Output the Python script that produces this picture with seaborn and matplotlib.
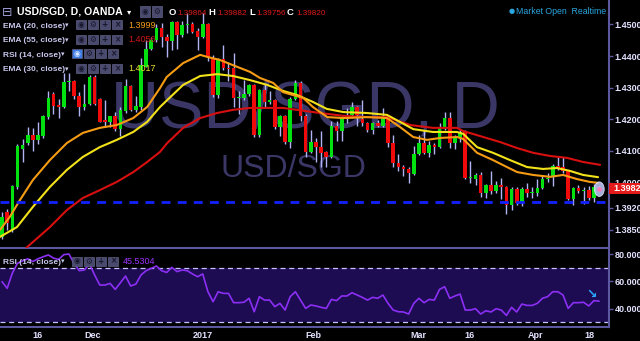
import matplotlib
matplotlib.use("Agg")
import matplotlib.pyplot as plt
import numpy as np
import pandas as pd
import seaborn as sns
from matplotlib.patches import Rectangle, Ellipse

# ---------------- data ----------------
tick_labels = ["16", "Dec", "2017", "Feb", "Mar", "16", "Apr", "18"]
tick_index = [7.0, 17.7, 39.1, 60.4, 80.8, 90.9, 103.6, 114.2]

opens = [1.3827,1.3906,1.3850,1.3986,1.4105,1.4124,1.4150,1.4134,1.4147,1.4207,
         1.4280,1.4244,1.4239,1.4318,1.4322,1.4274,1.4239,1.4249,1.4333,1.4264,
         1.4197,1.4190,1.4209,1.4169,1.4227,1.4305,1.4231,1.4238,1.4366,1.4424,
         1.4450,1.4488,1.4461,1.4448,1.4508,1.4467,1.4498,1.4500,1.4480,1.4462,
         1.4500,1.4391,1.4277,1.4391,1.4362,1.4362,1.4266,1.4268,1.4280,1.4308,
         1.4150,1.4292,1.4255,1.4260,1.4176,1.4210,1.4128,1.4264,1.4315,1.4212,
         1.4097,1.4128,1.4112,1.4096,1.4080,1.4178,1.4162,1.4200,1.4213,1.4238,
         1.4202,1.4188,1.4167,1.4188,1.4180,1.4204,1.4125,1.4062,1.4050,1.4043,
         1.4028,1.4090,1.4125,1.4095,1.4120,1.4113,1.4170,1.4203,1.4125,1.4143,
         1.4160,1.4015,1.4012,1.4025,1.3967,1.3992,1.3973,1.3992,1.3985,1.3930,
         1.3978,1.3935,1.3980,1.3968,1.3968,1.3983,1.4012,1.4018,1.4052,1.4050,
         1.4035,1.3948,1.3983,1.3972,1.3975,1.3952,1.39864]
highs = [1.3908,1.3916,1.3992,1.4122,1.4137,1.4176,1.4173,1.4192,1.4215,1.4290,
         1.4288,1.4263,1.4347,1.4347,1.4325,1.4288,1.4312,1.4340,1.4340,1.4268,
         1.4260,1.4212,1.4224,1.4240,1.4326,1.4310,1.4274,1.4394,1.4451,1.4462,
         1.4500,1.4504,1.4470,1.4512,1.4512,1.4512,1.4535,1.4508,1.4488,1.4535,
         1.4505,1.4405,1.4395,1.4436,1.4381,1.4410,1.4290,1.4323,1.4312,1.4312,
         1.4296,1.4313,1.4290,1.4265,1.4215,1.4215,1.4270,1.4325,1.4320,1.4216,
         1.4165,1.4140,1.4163,1.4100,1.4196,1.4196,1.4210,1.4236,1.4255,1.4242,
         1.4262,1.4192,1.4192,1.4198,1.4235,1.4210,1.4150,1.4089,1.4055,1.4048,
         1.4115,1.4150,1.4165,1.4130,1.4126,1.4188,1.4222,1.4222,1.4150,1.4170,
         1.4165,1.4068,1.4030,1.4032,1.3995,1.4035,1.4005,1.4015,1.3990,1.3985,
         1.3985,1.3985,1.4000,1.3985,1.4010,1.4025,1.4030,1.4060,1.4080,1.4080,
         1.4040,1.3985,1.3992,1.3985,1.3990,1.3995,1.39882]
lows = [1.3822,1.3851,1.3845,1.3980,1.4065,1.4120,1.4099,1.4122,1.4140,1.4200,
        1.4218,1.4205,1.4235,1.4289,1.4263,1.4210,1.4228,1.4245,1.4244,1.4190,
        1.4176,1.4176,1.4162,1.4147,1.4220,1.4225,1.4222,1.4230,1.4366,1.4418,
        1.4445,1.4429,1.4397,1.4420,1.4424,1.4462,1.4474,1.4474,1.4418,1.4458,
        1.4386,1.4272,1.4268,1.4355,1.4320,1.4240,1.4217,1.4262,1.4275,1.4145,
        1.4145,1.4235,1.4250,1.4170,1.4147,1.4122,1.4108,1.4260,1.4196,1.4080,
        1.4095,1.4064,1.4050,1.4050,1.4078,1.4130,1.4130,1.4188,1.4205,1.4180,
        1.4180,1.4160,1.4155,1.4175,1.4176,1.4112,1.4050,1.4037,1.4022,1.4000,
        1.4025,1.4086,1.4090,1.4082,1.4090,1.4108,1.4165,1.4110,1.4105,1.4128,
        1.4010,1.4000,1.3992,1.3955,1.3950,1.3965,1.3968,1.3948,1.3900,1.3912,
        1.3930,1.3925,1.3955,1.3950,1.3958,1.3980,1.4002,1.3990,1.4040,1.4030,
        1.3945,1.3930,1.3968,1.3932,1.3945,1.3940,1.39756]
closes = [1.3890,1.3871,1.3989,1.4115,1.4118,1.4150,1.4134,1.4150,1.4210,1.4267,
          1.4242,1.4240,1.4318,1.4322,1.4274,1.4239,1.4249,1.4335,1.4249,1.4193,
          1.4191,1.4209,1.4169,1.4230,1.4305,1.4231,1.4242,1.4373,1.4424,1.4450,
          1.4489,1.4461,1.4448,1.4508,1.4467,1.4498,1.4502,1.4476,1.4462,1.4500,
          1.4397,1.4277,1.4391,1.4362,1.4358,1.4267,1.4270,1.4280,1.4308,1.4150,
          1.4292,1.4255,1.4262,1.4176,1.4211,1.4128,1.4264,1.4315,1.4212,1.4097,
          1.4128,1.4112,1.4093,1.4080,1.4178,1.4162,1.4204,1.4206,1.4238,1.4213,
          1.4188,1.4167,1.4188,1.4180,1.4204,1.4125,1.4061,1.4050,1.4042,1.4030,
          1.4090,1.4125,1.4095,1.4120,1.4113,1.4177,1.4203,1.4125,1.4140,1.4160,
          1.4015,1.4018,1.4025,1.3967,1.3992,1.3973,1.3992,1.3985,1.3928,1.3980,
          1.3935,1.3980,1.3967,1.3970,1.3983,1.4012,1.4015,1.4052,1.4045,1.4035,
          1.3948,1.3983,1.3973,1.3976,1.3952,1.3986,1.39820]

rsi_vals = [59.8,54.9,65.9,73.2,75.0,76.5,74.5,76.5,78.0,79.3,
            77.0,76.0,79.5,80.0,73.2,67.8,68.3,72.7,64.6,57.3,
            57.3,58.5,54.1,59.0,63.9,56.6,58.0,64.6,67.8,69.5,
            71.2,67.8,66.5,70.2,67.1,68.3,67.8,65.4,63.4,65.4,
            52.5,45.1,52.4,51.2,51.2,44.4,44.4,44.7,47.6,37.8,
            48.8,46.3,46.3,41.5,43.9,39.0,48.8,52.4,46.3,40.2,
            42.7,42.0,41.0,40.2,46.8,45.9,49.3,49.3,51.7,50.0,
            48.3,46.3,48.3,47.6,50.0,43.9,39.0,37.8,37.6,36.1,
            43.9,47.6,44.4,46.8,46.3,54.1,56.1,47.6,49.3,50.7,
            39.0,39.0,40.0,36.1,38.5,37.6,40.0,39.0,35.1,41.0,
            37.6,43.4,42.4,42.4,43.9,47.6,48.8,52.4,52.4,50.0,
            40.2,44.4,44.4,44.7,42.0,45.9,45.53]

ema20_idx = [-0.4,1.5,3.5,6.0,9.3,12.6,15.7,19.0,22.3,25.5,28.2,30.7,32.0,35.2,38.5,
             40.0,42.3,45.7,48.2,50.1,52.7,54.6,56.5,58.5,60.4,63.2,66.3,70.9,74.8,77.3,
             79.9,82.6,85.1,88.4,89.6,92.3,95.4,98.1,100.1,103.2,106.5,109.0,111.7,114.2,115.8]
ema20_val = [1.3850,1.3891,1.3945,1.4008,1.4071,1.4125,1.4157,1.4173,1.4182,1.4204,
             1.4239,1.4299,1.4334,1.4378,1.4404,1.4397,1.4388,1.4366,1.4350,1.4331,
             1.4315,1.4286,1.4277,1.4268,1.4239,1.4207,1.4204,1.4207,1.4204,1.4176,
             1.4144,1.4135,1.4141,1.4144,1.4138,1.4094,1.4071,1.4049,1.4033,1.4024,
             1.4018,1.4024,1.4011,1.4002,1.3999]
ema30_idx = [-0.4,2.9,6.0,9.3,12.6,15.7,19.0,22.3,25.5,28.2,30.7,32.1,35.2,38.5,41.8,
             44.9,48.2,51.5,54.6,57.3,60.4,63.1,66.3,70.9,74.8,77.3,79.9,83.7,88.4,89.6,
             92.3,95.4,98.7,102.0,105.1,107.8,110.3,112.9,115.8]
ema30_val = [1.3828,1.3859,1.3923,1.3986,1.4040,1.4081,1.4112,1.4135,1.4160,1.4192,
             1.4239,1.4261,1.4309,1.4337,1.4343,1.4337,1.4324,1.4309,1.4290,1.4277,
             1.4255,1.4233,1.4223,1.4220,1.4214,1.4192,1.4169,1.4160,1.4160,1.4154,
             1.4112,1.4094,1.4071,1.4049,1.4043,1.4046,1.4037,1.4024,1.4017]
ema55_idx = [3.5,4.9,9.3,12.6,15.7,19.0,22.3,25.5,28.2,30.7,32.1,35.2,38.5,41.8,44.9,
             48.2,51.5,54.6,57.3,61.8,66.3,70.9,74.8,79.3,83.7,88.4,89.6,93.5,96.8,100.1,
             103.2,106.5,109.8,112.9,116.2]
ema55_val = [1.3771,1.3796,1.3859,1.3913,1.3951,1.3976,1.4002,1.4033,1.4065,1.4097,
             1.4125,1.4173,1.4204,1.4220,1.4230,1.4236,1.4236,1.4236,1.4230,1.4220,
             1.4211,1.4207,1.4207,1.4182,1.4173,1.4173,1.4163,1.4144,1.4128,1.4109,
             1.4094,1.4084,1.4078,1.4065,1.4056]

price_ticks = [1.45, 1.44, 1.43, 1.42, 1.41, 1.40, 1.392, 1.385]
rsi_ticks = [80, 60, 40]
support_level = 1.3940
last_price = 1.39820

# ---------------- style ----------------
sns.set_theme(style="dark", rc={"axes.facecolor": "none", "figure.facecolor": "black",
                                "axes.grid": False})
plt.rcParams['font.family'] = ['Liberation Sans', 'DejaVu Sans']

W, H = 640, 341
def fx(px): return px / W
def fy(py): return 1 - py / H

fig = plt.figure(figsize=(6.4, 3.41), dpi=100, facecolor="black")
ax = fig.add_axes([0, fy(248), fx(609), 248 / H])
axr = fig.add_axes([0, fy(327), fx(609), (327 - 249) / H])

AXCOL = "#5c58a0"
LBL = "#e2e2ff"

df = pd.DataFrame({"idx": np.arange(len(opens)), "open": opens, "high": highs,
                   "low": lows, "close": closes, "rsi": rsi_vals})
up = df["close"] >= df["open"]
body_lo = np.minimum(df["open"], df["close"])
body_h = np.maximum(np.abs(df["close"] - df["open"]), 0.00012)

# watermark
ax.text(fx(305), fy(127), "USD/SGD, D", transform=fig.transFigure, ha="center",
        va="baseline", fontsize=48, color="#3a3766", zorder=0.5)
ax.text(fx(293), fy(177), "USD/SGD", transform=fig.transFigure, ha="center",
        va="baseline", fontsize=23, color="#3a3766", zorder=0.5)

# candles
ax.vlines(df["idx"], df["low"], df["high"], colors="#b0b4f4", lw=1.0, zorder=2)
ax.bar(df["idx"], body_h, bottom=body_lo, width=0.7,
       color=np.where(up, "#00e10f", "#f00a0a"), linewidth=0, zorder=3)

# EMAs
sns.lineplot(x=ema55_idx, y=ema55_val, ax=ax, color="#d80f0f", lw=1.5, zorder=4)
sns.lineplot(x=ema30_idx, y=ema30_val, ax=ax, color="#f2e21a", lw=1.5, zorder=4)
sns.lineplot(x=ema20_idx, y=ema20_val, ax=ax, color="#f59c14", lw=1.5, zorder=4)

ax.axhline(support_level, color="#1222ff", lw=2.0, dashes=(3.2, 2.6), zorder=5)

ax.add_patch(Ellipse((116.05, 1.3979), width=1.9, height=0.0046, facecolor="#c6ccff",
                     edgecolor="#e4e8ff", lw=0.6, alpha=0.85, zorder=6))
ax.plot([116.05], [1.3979], "o", ms=2.2, color="#ff7ab8", zorder=7)

ax.set_xlim(-0.39, 117.93)
ax.set_ylim(1.37929, 1.45775)
ax.set_xticks([])
ax.yaxis.tick_right()
ax.set_yticks(price_ticks)
ax.set_yticklabels([f"{v:.5f}" for v in price_ticks])
ax.tick_params(axis="y", right=True, labelright=True, left=False, labelleft=False,
               length=3, width=1, color=AXCOL, labelcolor=LBL, labelsize=6.5, pad=1)
for lab in ax.get_yticklabels():
    lab.set_fontweight("bold")
for s in ax.spines.values():
    s.set_visible(False)
for s in ("right", "bottom"):
    ax.spines[s].set_visible(True)
    ax.spines[s].set_color(AXCOL)
    ax.spines[s].set_linewidth(1.5)
ax.set_xlabel("")
ax.set_ylabel("")

# RSI pane
axr.axhspan(30, 70, color="#1d0c52", zorder=0, lw=0)
axr.axhline(70, color="#c8c0ff", lw=0.9, dashes=(4, 3), zorder=1)
axr.axhline(30, color="#c8c0ff", lw=0.9, dashes=(4, 3), zorder=1)
sns.lineplot(data=df, x="idx", y="rsi", ax=axr, color="#8c2ff5", lw=1.2, zorder=3)
axr.set_xlim(-0.39, 117.93)
axr.set_ylim(26.62, 83.66)
axr.yaxis.tick_right()
axr.set_yticks(rsi_ticks)
axr.set_yticklabels([f"{v:.4f}" for v in rsi_ticks])
axr.set_xticks(tick_index)
axr.set_xticklabels(tick_labels)
axr.tick_params(axis="y", right=True, labelright=True, left=False, labelleft=False,
                length=3, width=1, color=AXCOL, labelcolor=LBL, labelsize=6.5, pad=1)
axr.tick_params(axis="x", bottom=True, length=0, labelcolor=LBL, labelsize=6.5, pad=3)
for lab in axr.get_yticklabels() + axr.get_xticklabels():
    lab.set_fontweight("bold")
for s in axr.spines.values():
    s.set_visible(False)
for s in ("right", "bottom"):
    axr.spines[s].set_visible(True)
    axr.spines[s].set_color(AXCOL)
    axr.spines[s].set_linewidth(1.5)
axr.set_xlabel("")
axr.set_ylabel("")

# ---------------- header / overlays ----------------
def ftext(px, py, s, **kw):
    kw.setdefault("va", "baseline")
    kw.setdefault("zorder", 20)
    fig.text(fx(px), fy(py), s, **kw)

def button(px, py, w, h, icon, face="#4a4a6e", icol="#16162c"):
    fig.patches.append(Rectangle((fx(px), fy(py + h)), w / W, h / H,
                                 transform=fig.transFigure, facecolor=face,
                                 edgecolor="#5e5e86", lw=0.5, zorder=19))
    fig.text(fx(px + w / 2), fy(py + h / 2), icon, ha="center", va="center",
             fontsize=5.5, color=icol, family=["DejaVu Sans"], zorder=20,
             fontweight="bold")

icons = ["◉", "⚙", "+", "×"]

ftext(2, 15.5, "⊟", fontsize=9, color="#9c9cd4", family=["DejaVu Sans"])
ftext(17, 15, "USD/SGD, D, OANDA", fontsize=7.6, weight="bold", color="white")
ftext(127, 14, "▾", fontsize=6, color="white", family=["DejaVu Sans"])
button(140, 6, 10, 10.5, icons[0])
button(152, 6, 10, 10.5, icons[1])
ohlc = [("O", 169, "1.39864", 177), ("H", 208, "1.39882", 217),
        ("L", 249, "1.39756", 256), ("C", 287, "1.39820", 296)]
for k, kx, v, vx in ohlc:
    ftext(kx, 15, k, fontsize=6.8, weight="bold", color="white")
    ftext(vx, 15, v, fontsize=5.9, color="#e01a1a")

rows = [("EMA (20, close)", 27.7, 76, "1.3999", "#f39c1a"),
        ("EMA (55, close)", 42.2, 76, "1.4056", "#cc1515"),
        ("RSI (14, close)", 56.7, 72, None, None),
        ("EMA (30, close)", 71.2, 76, "1.4017", "#e8e030")]
for name, by, bx, val, vc in rows:
    ftext(3, by, name, fontsize=6, weight="bold", color="#c8c8ee")
    ftext(bx - 11, by - 0.5, "▾", fontsize=5, color="#c8c8ee", family=["DejaVu Sans"])
    for j, ic in enumerate(icons):
        if name.startswith("RSI") and j == 0:
            button(bx + 12 * j, by - 7.5, 9.5, 9, ic, face="#3d7be6", icol="#d8e8ff")
        else:
            button(bx + 12 * j, by - 7.5, 9.5, 9, ic)
    if val:
        ftext(128, by, val, fontsize=6.5, color=vc)

# RSI pane header
ftext(3, 264, "RSI (14, close)", fontsize=6, weight="bold", color="#c8c8ee")
ftext(61, 263.5, "▾", fontsize=5, color="#c8c8ee", family=["DejaVu Sans"])
for j, ic in enumerate(icons):
    button(72 + 12 * j, 256.5, 9.5, 9, ic)
ftext(123, 264, "45.5304", fontsize=6.5, color="#9c35ff")

# market status
ftext(509, 13.5, "●", fontsize=5, color="#2aa7e0", family=["DejaVu Sans"])
ftext(516, 13.5, "Market Open  Realtime", fontsize=6.3, color="#2aa7e0")

# last price box
fig.patches.append(Rectangle((fx(609), fy(194)), 31 / W, 11 / H,
                             transform=fig.transFigure, facecolor="#e41b1b",
                             lw=0, zorder=21))
fig.text(fx(613), fy(188.5), "1.39820", va="center", color="white", fontsize=6.5,
         fontweight="bold", zorder=22)

# cursor in RSI pane
ftext(586, 298, "↘", fontsize=9, color="#2aa8ff", weight="bold", family=["DejaVu Sans"])

fig.savefig("out.png", dpi=100, facecolor="black")
